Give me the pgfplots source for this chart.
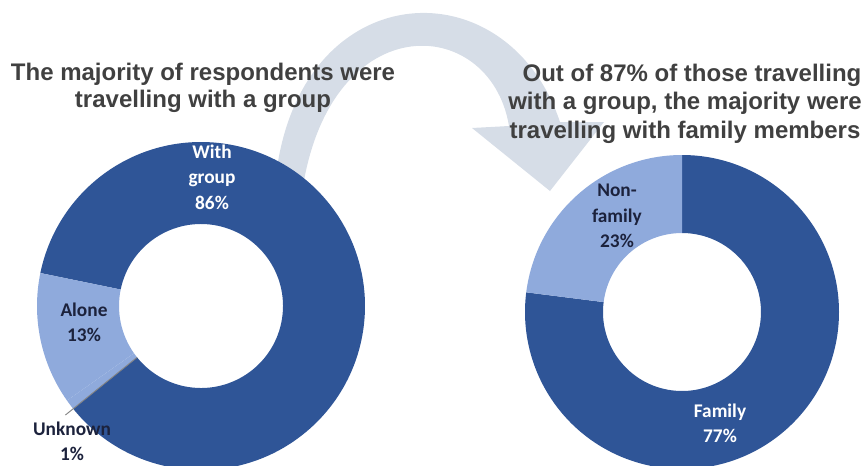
\documentclass[border=0pt]{standalone}
\usepackage{fontspec}
\setmainfont{Liberation Sans}
\newfontfamily\calibri{Carlito}
\usepackage{pgfplots}
\usepackage{pgfplotstable}
\pgfplotsset{compat=1.18}

\definecolor{darkblue}{RGB}{47,85,151}
\definecolor{lightblue}{RGB}{143,170,220}
\definecolor{arrowgray}{RGB}{214,221,231}
\definecolor{titlegray}{RGB}{64,64,64}
\definecolor{navytext}{RGB}{28,34,60}
\definecolor{leadergray}{RGB}{130,130,130}

% data: share of respondents (%)
\pgfplotstableread{
slice value
WithGroup 86
Alone 13
Unknown 1
}\leftdonut
\pgfplotstableread{
slice value
Family 77
NonFamily 23
}\rightdonut

\pgfplotstablegetelem{0}{value}\of\leftdonut\let\LvA\pgfplotsretval
\pgfplotstablegetelem{1}{value}\of\leftdonut\let\LvB\pgfplotsretval
\pgfplotstablegetelem{2}{value}\of\leftdonut\let\LvC\pgfplotsretval
\pgfplotstablegetelem{0}{value}\of\rightdonut\let\RvA\pgfplotsretval
\pgfplotstablegetelem{1}{value}\of\rightdonut\let\RvB\pgfplotsretval

% angles (degrees, counter-clockwise) of the slice boundaries
\pgfmathsetmacro\La{-141.2}
\pgfmathsetmacro\Lb{\La+3.6*\LvA}
\pgfmathsetmacro\Lc{\Lb+3.6*\LvB}
\pgfmathsetmacro\Ld{\Lc+3.6*\LvC}
\pgfmathsetmacro\Ra{90}
\pgfmathsetmacro\Rb{\Ra-3.6*\RvA}
\pgfmathsetmacro\Rc{\Rb-3.6*\RvB}

% ring sector: cx, cy, r_in, r_out, a1, a2, colour  (radii in axis units = px)
\newcommand\ring[7]{%
  \fill[#7] (axis cs:#1,#2) ++(#5:{#4*0.75pt})
    arc[start angle=#5,end angle=#6,radius={#4*0.75pt}]
    -- ++({#6+180}:{(#4-#3)*0.75pt})
    arc[start angle=#6,end angle=#5,radius={#3*0.75pt}] -- cycle;}

\begin{document}
\begin{tikzpicture}
\useasboundingbox (0,0) rectangle (648.75pt,348.75pt);
\begin{axis}[at={(0,0)}, anchor=south west,
  x=0.75pt, y=0.75pt, xmin=0, xmax=865, ymin=0, ymax=465,
  y dir=reverse, hide axis, clip=true]

% curved arrow between the two donuts
\fill[arrowgray] (axis cs:274,200) .. controls (axis cs:284,-25) and (axis cs:505,-42) .. (axis cs:560,122)
  -- (axis cs:604,122) -- (axis cs:550,191) -- (axis cs:472,128) -- (axis cs:509,126)
  .. controls (axis cs:490,12) and (axis cs:325,5) .. (axis cs:301,200) -- cycle;

% left donut
\ring{201}{306}{82}{164}{\La}{\Lb}{darkblue}
\ring{201}{306}{82}{164}{\Lb}{\Lc}{lightblue}
\ring{201}{306}{82}{164}{\Lc}{\Ld}{lightblue}
\draw[leadergray, line width=0.7pt] (axis cs:201,306) ++(\Ld:{82*0.75pt}) -- ++(\Ld:{92*0.75pt});

% right donut
\ring{682}{312}{79}{157}{\Ra}{\Rb}{darkblue}
\ring{682}{312}{79}{157}{\Rb}{\Rc}{lightblue}

% slice labels
\begin{scope}[every node/.style={align=center, font=\calibri\bfseries\fontsize{14.5pt}{19pt}\selectfont}]
\node[text=white] at (axis cs:212,177) {With\\group\\86\%};
\node[text=navytext] at (axis cs:84,322) {Alone\\13\%};
\node[text=navytext] at (axis cs:72,441) {Unknown\\1\%};
\node[text=navytext] at (axis cs:617,216) {Non-\\family\\23\%};
\node[text=white] at (axis cs:720,423) {Family\\77\%};
\end{scope}

% titles
\begin{scope}[every node/.style={anchor=base, text=titlegray, font=\bfseries\fontsize{18pt}{20pt}\selectfont}]
\node at (axis cs:203,80.5) {The majority of respondents were};
\node at (axis cs:203,107.5) {travelling with a group};
\node at (axis cs:692,81) {Out of 87\% of those travelling};
\node at (axis cs:685,109.5) {with a group, the majority were};
\node at (axis cs:685,138) {travelling with family members};
\end{scope}
\end{axis}
\end{tikzpicture}
\end{document}
